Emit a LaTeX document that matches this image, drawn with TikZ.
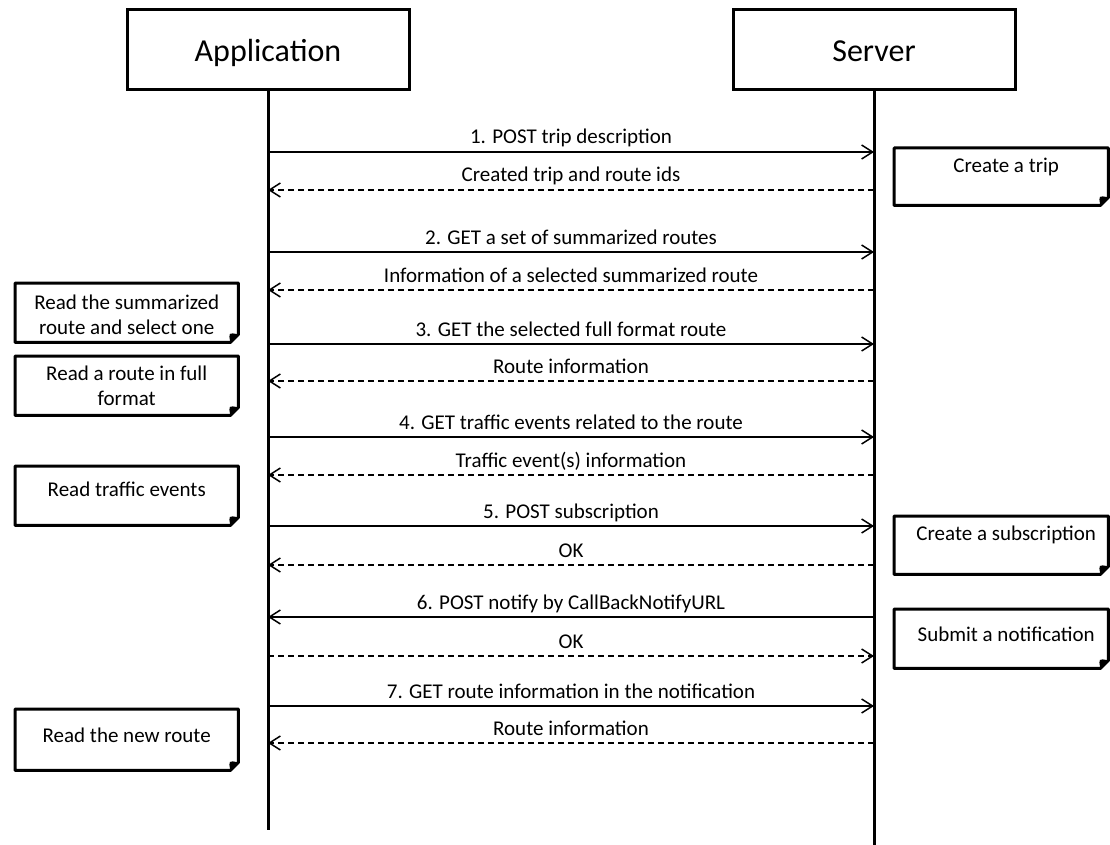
\documentclass[tikz,border=0pt]{standalone}
\usepackage{fontspec}
\setmainfont{Carlito}
\usetikzlibrary{arrows.meta}
\newcommand{\dogear}[1]{%
  \draw[notebox] (#1.north west) -- (#1.north east) -- ([yshift=8pt]#1.south east) -- ([xshift=-8pt]#1.south east) -- (#1.south west) -- cycle;
  \fill ([yshift=8pt]#1.south east) .. controls ([xshift=-10pt,yshift=10pt]#1.south east) .. ([xshift=-8pt]#1.south east) -- cycle;
}
\tikzset{
  actor/.style = {draw=black, line width=3, minimum width=282pt, minimum height=80pt, inner sep=0pt, text height=30pt, text depth=6pt, font=\fontsize{32}{38}\selectfont},
  lifeline/.style = {line width=3, black},
  msg/.style = {-{Straight Barb[length=11pt,width=14pt]}, line width=1.5, black},
  reply/.style = {msg, dash pattern=on 6pt off 4pt},
  msglabel/.style = {midway, anchor=base, yshift=8pt, inner sep=0pt, font=\fontsize{21}{25}\selectfont},
  note/.style = {minimum width=223pt, minimum height=59pt, anchor=north west, inner sep=0pt},
  rnote/.style = {note, minimum width=214pt},
  notebox/.style = {line width=3, draw=black, fill=white, line join=round},
  notetext/.style = {font=\fontsize{21}{25}\selectfont, align=center, inner sep=0pt},
}
\begin{document}
\begin{tikzpicture}[x=1pt,y=-1pt]
    \useasboundingbox (0,0) rectangle (1110,845);

    \node[actor] at (268,50) (app) {Application};
    \node[actor] at (874,50) (srv) {Server};

    \coordinate (append) at (268,830);
    \coordinate (srvend) at (874,850);
    \draw[lifeline] (app) -- (append);
    \draw[lifeline] (srv) -- (srvend);

    % message ends on the two lifelines
    \coordinate (a1) at (268,152);  \coordinate (s1) at (874,152);
    \coordinate (a2) at (268,190);  \coordinate (s2) at (874,190);
    \coordinate (a3) at (268,252);  \coordinate (s3) at (874,252);
    \coordinate (a4) at (268,290);  \coordinate (s4) at (874,290);
    \coordinate (a5) at (268,344);  \coordinate (s5) at (874,344);
    \coordinate (a6) at (268,381);  \coordinate (s6) at (874,381);
    \coordinate (a7) at (268,437);  \coordinate (s7) at (874,437);
    \coordinate (a8) at (268,475);  \coordinate (s8) at (874,475);
    \coordinate (a9) at (268,526);  \coordinate (s9) at (874,526);
    \coordinate (a10) at (268,565); \coordinate (s10) at (874,565);
    \coordinate (a11) at (268,617); \coordinate (s11) at (874,617);
    \coordinate (a12) at (268,656); \coordinate (s12) at (874,656);
    \coordinate (a13) at (268,706); \coordinate (s13) at (874,706);
    \coordinate (a14) at (268,743); \coordinate (s14) at (874,743);

    \draw[msg] (a1) to node[msglabel] {1. POST trip description} (s1);
    \draw[reply] (s2) to node[msglabel] {Created trip and route ids} (a2);

    \draw[msg] (a3) to node[msglabel] {2. GET a set of summarized routes} (s3);
    \draw[reply] (s4) to node[msglabel] {Information of a selected summarized route} (a4);

    \draw[msg] (a5) to node[msglabel] {3. GET the selected full format route} (s5);
    \draw[reply] (s6) to node[msglabel] {Route information} (a6);

    \draw[msg] (a7) to node[msglabel] {4. GET traffic events related to the route} (s7);
    \draw[reply] (s8) to node[msglabel] {Traffic event(s) information} (a8);

    \draw[msg] (a9) to node[msglabel] {5. POST subscription} (s9);
    \draw[reply] (s10) to node[msglabel] {OK} (a10);

    \draw[msg] (s11) to node[msglabel] {6. POST notify by CallBackNotifyURL} (a11);
    \draw[reply] (a12) to node[msglabel] {OK} (s12);

    \draw[msg] (a13) to node[msglabel] {7. GET route information in the notification} (s13);
    \draw[reply] (s14) to node[msglabel] {Route information} (a14);

    % notes on the application side
    \node[note] at (15,283) (sumnote) {};
    \dogear{sumnote}
    \node[notetext] at ([yshift=-32pt]sumnote.north) (sumtext) {Read the summarized\\route and select one};

    \node[note] at (15,356) (fullnote) {};
    \dogear{fullnote}
    \node[notetext] at ([yshift=-30pt]fullnote.north) (fulltext) {Read a route in full\\format};

    \node[note] at (15,466) (trafnote) {};
    \dogear{trafnote}
    \node[notetext] at ([yshift=-23pt]trafnote.north) (traftext) {Read traffic events};

    \node[note,minimum height=61pt] at (15,709) (newnote) {};
    \dogear{newnote}
    \node[notetext] at ([yshift=-26pt]newnote.north) (newtext) {Read the new route};

    % notes on the server side
    \node[rnote,minimum height=57pt] at (894,148) (tripnote) {};
    \dogear{tripnote}
    \node[notetext] at ([xshift=5pt,yshift=-19pt]tripnote.north) (triptext) {Create a trip};

    \node[rnote,minimum height=58pt] at (894,516) (subnote) {};
    \dogear{subnote}
    \node[notetext] at ([xshift=5pt,yshift=-19pt]subnote.north) (subtext) {Create a subscription};

    \node[rnote] at (894,609) (notifnote) {};
    \dogear{notifnote}
    \node[notetext] at ([xshift=5pt,yshift=-25pt]notifnote.north) (notiftext) {Submit a notification};

\end{tikzpicture}
\end{document}
